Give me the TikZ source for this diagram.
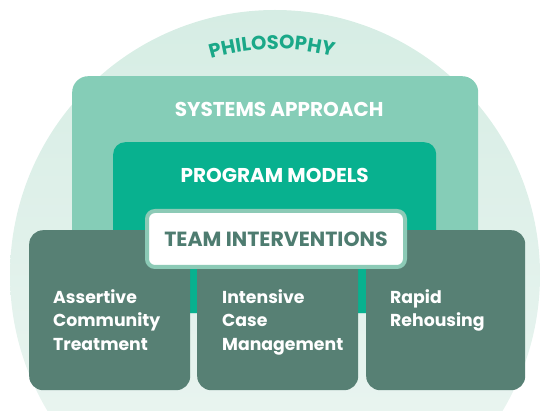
\documentclass[tikz,border=0pt]{standalone}
\usepackage{fontspec}
\setmainfont{Poppins}
\usepackage{xcolor}
\usepackage{tikz}
\usetikzlibrary{
  positioning,
  decorations.text
}
\definecolor{PhilMint}{RGB}{214, 237, 228}
\definecolor{PhilFade}{RGB}{238, 246, 243}
\definecolor{PhilText}{RGB}{26, 168, 136}
\definecolor{SysTeal}{RGB}{133, 205, 183}
\definecolor{ProgGreen}{RGB}{8, 177, 143}
\definecolor{TeamEdge}{RGB}{140, 202, 182}
\definecolor{TeamText}{RGB}{78, 124, 112}
\definecolor{TileSlate}{RGB}{87, 128, 116}
\newcommand{\philfont}{\fontsize{19.5}{22}\selectfont\bfseries}
\tikzset{
  layerbox/.style={rectangle, anchor=north west, inner sep=0pt},
  tilebox/.style={layerbox, fill=TileSlate, rounded corners=14pt, minimum height=160pt},
  headtext/.style={inner sep=0pt, text=white, font=\fontsize{20}{24}\selectfont\bfseries},
  tiletext/.style={anchor=north west, inner sep=0pt, align=left, text=white,
    font=\fontsize{17.3}{23.5}\selectfont\bfseries}
}

\begin{document}
\begin{tikzpicture}[x=1pt, y=1pt]
  \useasboundingbox (0,0) rectangle (541,410);
  % philosophy disc, cut off at the page edge
  \begin{scope}
    \clip (0,0) rectangle (541,410);
    \shade[top color=PhilMint, bottom color=PhilFade] (275,135) circle[radius=265];
  \end{scope}
  \path[decorate, decoration={text along path, text align=center,
      text={|\philfont\color{PhilText}|PHILOSOPHY}}]
    (275,135) ++(150.8:226) arc[start angle=150.8, end angle=30.8, radius=226];

  % nested layers
  \node[layerbox, fill=SysTeal, rounded corners=16pt, minimum width=406pt, minimum height=237pt] (sys) at (72,334) {};
  \node[headtext] at ([xshift=4pt, yshift=-33pt]sys.north) {SYSTEMS APPROACH};
  \node[layerbox, fill=ProgGreen, rounded corners=12pt, minimum width=323pt, minimum height=171pt] (prog) at (113,268) {};
  \node[headtext] at ([yshift=-33.5pt]prog.north) {PROGRAM MODELS};

  % intervention tiles
  \node[tilebox, minimum width=161pt] (act) at (29,180) {};
  \node[tilebox, minimum width=161pt] (icm) at (197,180) {};
  \node[tilebox, minimum width=159pt] (rrh) at (366,180) {};
  \node[tiletext] at ([xshift=24pt, yshift=-59pt]act.north west) {Assertive\\Community\\Treatment};
  \node[tiletext] at ([xshift=25pt, yshift=-59pt]icm.north west) {Intensive\\Case\\Management};
  \node[tiletext] at ([xshift=24pt, yshift=-59pt]rrh.north west) {Rapid\\Rehousing};

  \node[layerbox, fill=white, draw=TeamEdge, line width=4pt, rounded corners=8pt,
    minimum width=258pt, minimum height=56pt, text=TeamText,
    font=\fontsize{20.5}{24}\selectfont\bfseries] (team) at (145,201) {TEAM INTERVENTIONS};
\end{tikzpicture}
\end{document}
